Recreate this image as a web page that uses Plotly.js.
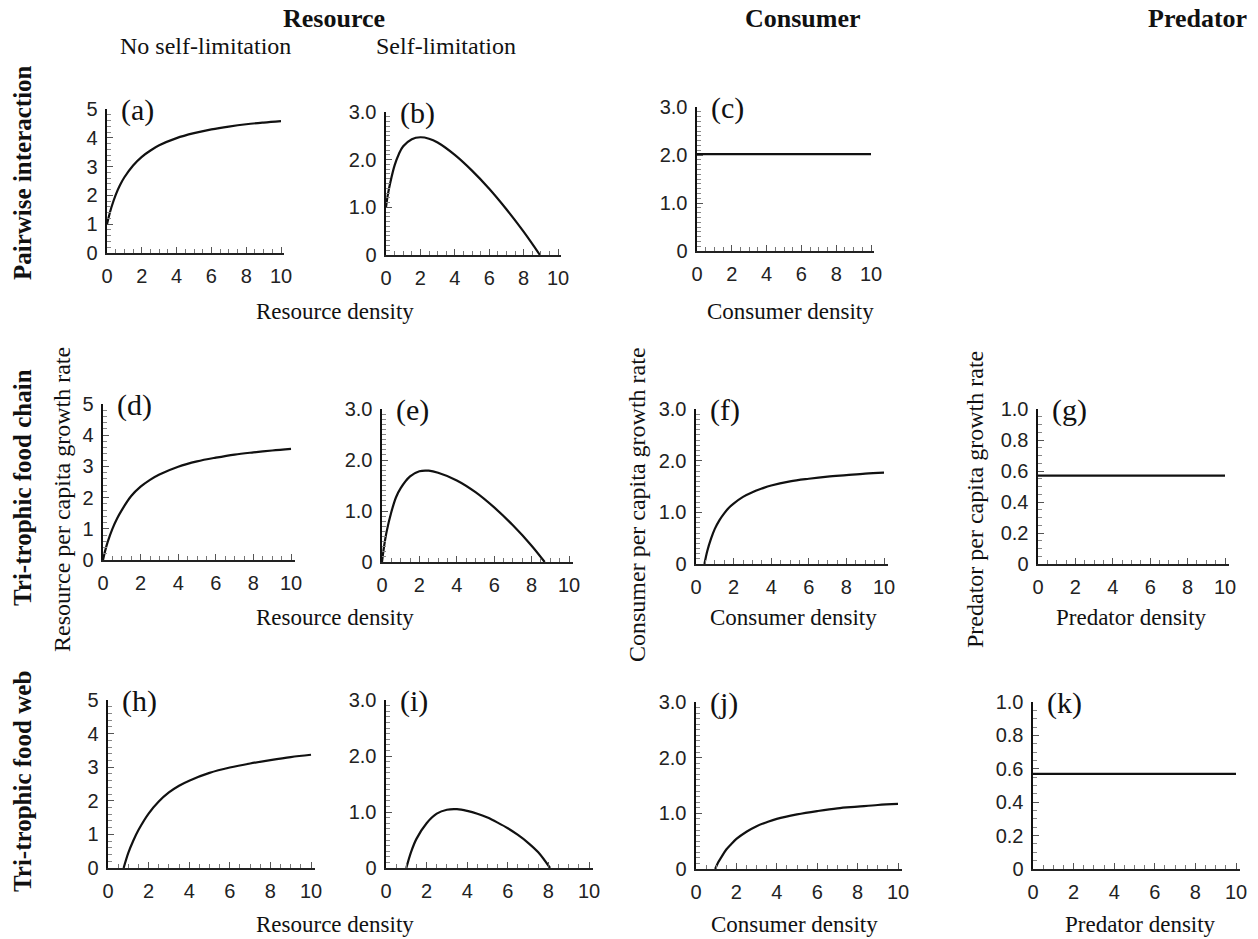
<!DOCTYPE html>
<html>
<head>
<meta charset="utf-8">
<script src="https://cdn.plot.ly/plotly-3.0.1.min.js"></script>
<style>html,body{margin:0;padding:0;background:#fff;}#chart{width:1258px;height:939px;}</style>
</head>
<body>
<div id="chart"></div>
<script>
// ---------------- DATA ----------------
const panelLetters = ['(a)','(b)','(c)','(d)','(e)','(f)','(g)','(h)','(i)','(j)','(k)'];

const xA = [0,0.1,0.25,0.5,0.75,1,1.5,2,2.5,3,4,5,6,7,8,9,10];
const yA = [1.0,1.25,1.58,2.02,2.36,2.63,3.04,3.34,3.56,3.74,3.99,4.16,4.29,4.39,4.47,4.53,4.58];

const xB = [0,0.1,0.25,0.5,0.75,1,1.5,2,2.5,3,4,5,6,7,8,8.95];
const yB = [1.0,1.25,1.52,1.88,2.12,2.28,2.43,2.47,2.44,2.36,2.1,1.77,1.39,0.96,0.49,0];

const xC = [0,10];
const yC = [2.02,2.02];

const xD = [0,0.1,0.25,0.5,0.75,1,1.5,2,2.5,3,4,5,6,7,8,9,10];
const yD = [0,0.26,0.58,1.0,1.33,1.6,2.05,2.35,2.57,2.74,2.99,3.16,3.28,3.38,3.45,3.51,3.56];

const xE = [0,0.1,0.25,0.5,0.75,1,1.5,2,2.5,3,4,5,6,7,8,8.7];
const yE = [0,0.28,0.6,0.98,1.27,1.45,1.68,1.78,1.79,1.75,1.6,1.37,1.07,0.72,0.32,0];

const xF = [0.45,0.6,0.8,1,1.25,1.5,1.75,2,2.5,3,3.5,4,5,6,7,8,9,10];
const yF = [0,0.25,0.49,0.68,0.85,0.98,1.09,1.17,1.3,1.39,1.46,1.52,1.6,1.65,1.69,1.72,1.75,1.77];

const xG = [0,10];
const yG = [0.57,0.57];

const xH = [0.77,1,1.25,1.5,2,2.5,3,3.5,4,5,6,7,8,9,10];
const yH = [0,0.45,0.82,1.13,1.62,1.98,2.25,2.45,2.6,2.83,2.99,3.11,3.21,3.3,3.37];

const xI = [1.0,1.25,1.5,2,2.5,3,3.5,4,4.5,5,5.5,6,6.5,7,7.5,8.08];
const yI = [0,0.3,0.52,0.8,0.97,1.04,1.05,1.02,0.97,0.9,0.81,0.71,0.59,0.45,0.28,0];

const xJ = [0.95,1.1,1.25,1.5,1.75,2,2.5,3,3.5,4,5,6,7,8,9,10];
const yJ = [0,0.12,0.21,0.35,0.45,0.54,0.67,0.77,0.84,0.9,0.98,1.04,1.09,1.12,1.15,1.17];

const xK = [0,10];
const yK = [0.57,0.57];

const xTickVals = [0,2,4,6,8,10];
const xTickText = ['0','2','4','6','8','10'];
const y5TickVals = [0,1,2,3,4,5];
const y5TickText = ['0','1','2','3','4','5'];
const y3TickVals = [0,1,2,3];
const y3TickText = ['0','1.0','2.0','3.0'];
const y1TickVals = [0,0.2,0.4,0.6,0.8,1.0];
const y1TickText = ['0','0.2','0.4','0.6','0.8','1.0'];

const columnHeaders = ['Resource','Consumer','Predator'];
const subHeaders = ['No self-limitation','Self-limitation'];
const rowLabels = ['Pairwise interaction','Tri-trophic food chain','Tri-trophic food web'];
const yTitles = ['Resource per capita growth rate','Consumer per capita growth rate','Predator per capita growth rate'];
const xTitles = ['Resource density','Consumer density','Predator density'];

// ---------------- LAYOUT GEOMETRY (pixels) ----------------
const W = 1258, H = 939;
const series = [[xA,yA],[xB,yB],[xC,yC],[xD,yD],[xE,yE],[xF,yF],[xG,yG],[xH,yH],[xI,yI],[xJ,yJ],[xK,yK]];
const scales = [
  [y5TickVals,y5TickText,5,0.2],
  [y3TickVals,y3TickText,3,0.1],
  [y1TickVals,y1TickText,1,0.05]
];
// x0px, x10px, yTopPx, y0Px, scale index
const geom = [
  [107,281,109,253,0],
  [386,558,112,255,1],
  [697,871,107,251,1],
  [103,291,404,560,0],
  [382,569,409,562,1],
  [696,884,409,564,1],
  [1038,1225,409,564,2],
  [108,311,700,868,0],
  [386,589,700,868,1],
  [696,898,702,869,1],
  [1033,1236,702,869,2]
];

const fx = px => px / W;
const fy = py => 1 - py / H;
const tickFont = {family:'Liberation Sans, Arial, sans-serif', size:20, color:'#222'};
const serif = 'Liberation Serif, Times New Roman, serif';

const traces = [];
const layout = {
  width: W, height: H,
  margin: {l:0, r:0, t:0, b:0},
  paper_bgcolor: '#fff', plot_bgcolor: 'rgba(0,0,0,0)',
  showlegend: false,
  annotations: []
};

geom.forEach((g, i) => {
  const n = i + 1;
  const xs = n === 1 ? 'x' : 'x' + n;
  const ys = n === 1 ? 'y' : 'y' + n;
  const [x0, x10, yt, yb, si] = g;
  const sc = scales[si];
  const xr = 10.2;
  layout['xaxis' + (n === 1 ? '' : n)] = {
    domain: [fx(x0), fx(x0 + (x10 - x0) * xr / 10)],
    range: [0, xr],
    anchor: ys,
    tickmode: 'array', tickvals: xTickVals, ticktext: xTickText,
    ticks: 'inside', ticklen: 6, tickwidth: 1, tickcolor: '#555',
    minor: {tickmode: 'linear', tick0: 0, dtick: 0.5, ticks: 'inside', ticklen: 4, tickwidth: 1, tickcolor: '#777'},
    showline: true, linecolor: '#222', linewidth: 1.5,
    showgrid: false, zeroline: false, fixedrange: true,
    tickfont: tickFont, ticklabelstandoff: 4
  };
  layout['yaxis' + (n === 1 ? '' : n)] = {
    domain: [fy(yb), fy(yt)],
    range: [0, sc[2]],
    anchor: xs,
    tickmode: 'array', tickvals: sc[0], ticktext: sc[1],
    ticks: 'inside', ticklen: 6, tickwidth: 1, tickcolor: '#555',
    minor: {tickmode: 'linear', tick0: 0, dtick: sc[3], ticks: 'inside', ticklen: 3.5, tickwidth: 1, tickcolor: '#888'},
    showline: true, linecolor: '#111', linewidth: 2.5,
    showgrid: false, zeroline: false, fixedrange: true,
    tickfont: tickFont, ticklabelstandoff: 3
  };
  const s = series[i];
  traces.push({
    x: s[0], y: s[1], xaxis: xs, yaxis: ys,
    type: 'scatter', mode: 'lines', hoverinfo: 'skip',
    line: {color: '#111', width: 2.2, shape: s[0].length > 2 ? 'spline' : 'linear', smoothing: 1}
  });
  layout.annotations.push({
    text: panelLetters[i], xref: 'paper', yref: 'paper',
    x: fx(x0 + 12), y: fy(yt + 1), xanchor: 'left', yanchor: 'middle',
    showarrow: false, font: {family: serif, size: 30, color: '#111'}
  });
});

function ann(text, px, py, size, opts) {
  layout.annotations.push(Object.assign({
    text: text, xref: 'paper', yref: 'paper', x: fx(px), y: fy(py),
    xanchor: 'center', yanchor: 'middle', showarrow: false,
    font: {family: serif, size: size, color: '#111'}
  }, opts || {}));
}

// column headers
ann('<b>' + columnHeaders[0] + '</b>', 334, 18, 26);
ann('<b>' + columnHeaders[1] + '</b>', 803, 18, 26);
ann('<b>' + columnHeaders[2] + '</b>', 1197, 18, 26);
// sub headers
ann(subHeaders[0], 205, 46, 24);
ann(subHeaders[1], 446, 46, 24);
// row labels
ann('<b>' + rowLabels[0] + '</b>', 22, 173, 25, {textangle: -90});
ann('<b>' + rowLabels[1] + '</b>', 22, 488, 25, {textangle: -90});
ann('<b>' + rowLabels[2] + '</b>', 22, 782, 25, {textangle: -90});
// y titles
ann(yTitles[0], 62, 500, 24, {textangle: -90});
ann(yTitles[1], 637, 505, 24, {textangle: -90});
ann(yTitles[2], 975, 500, 24, {textangle: -90});
// x titles
ann(xTitles[0], 335, 311, 23);
ann(xTitles[1], 790, 311, 23);
ann(xTitles[0], 335, 617, 23);
ann(xTitles[1], 793, 617, 23);
ann(xTitles[2], 1131, 617, 23);
ann(xTitles[0], 335, 924, 23);
ann(xTitles[1], 795, 924, 23);
ann(xTitles[2], 1140, 924, 23);

Plotly.newPlot('chart', traces, layout, {staticPlot: true, displayModeBar: false});
</script>
</body>
</html>
